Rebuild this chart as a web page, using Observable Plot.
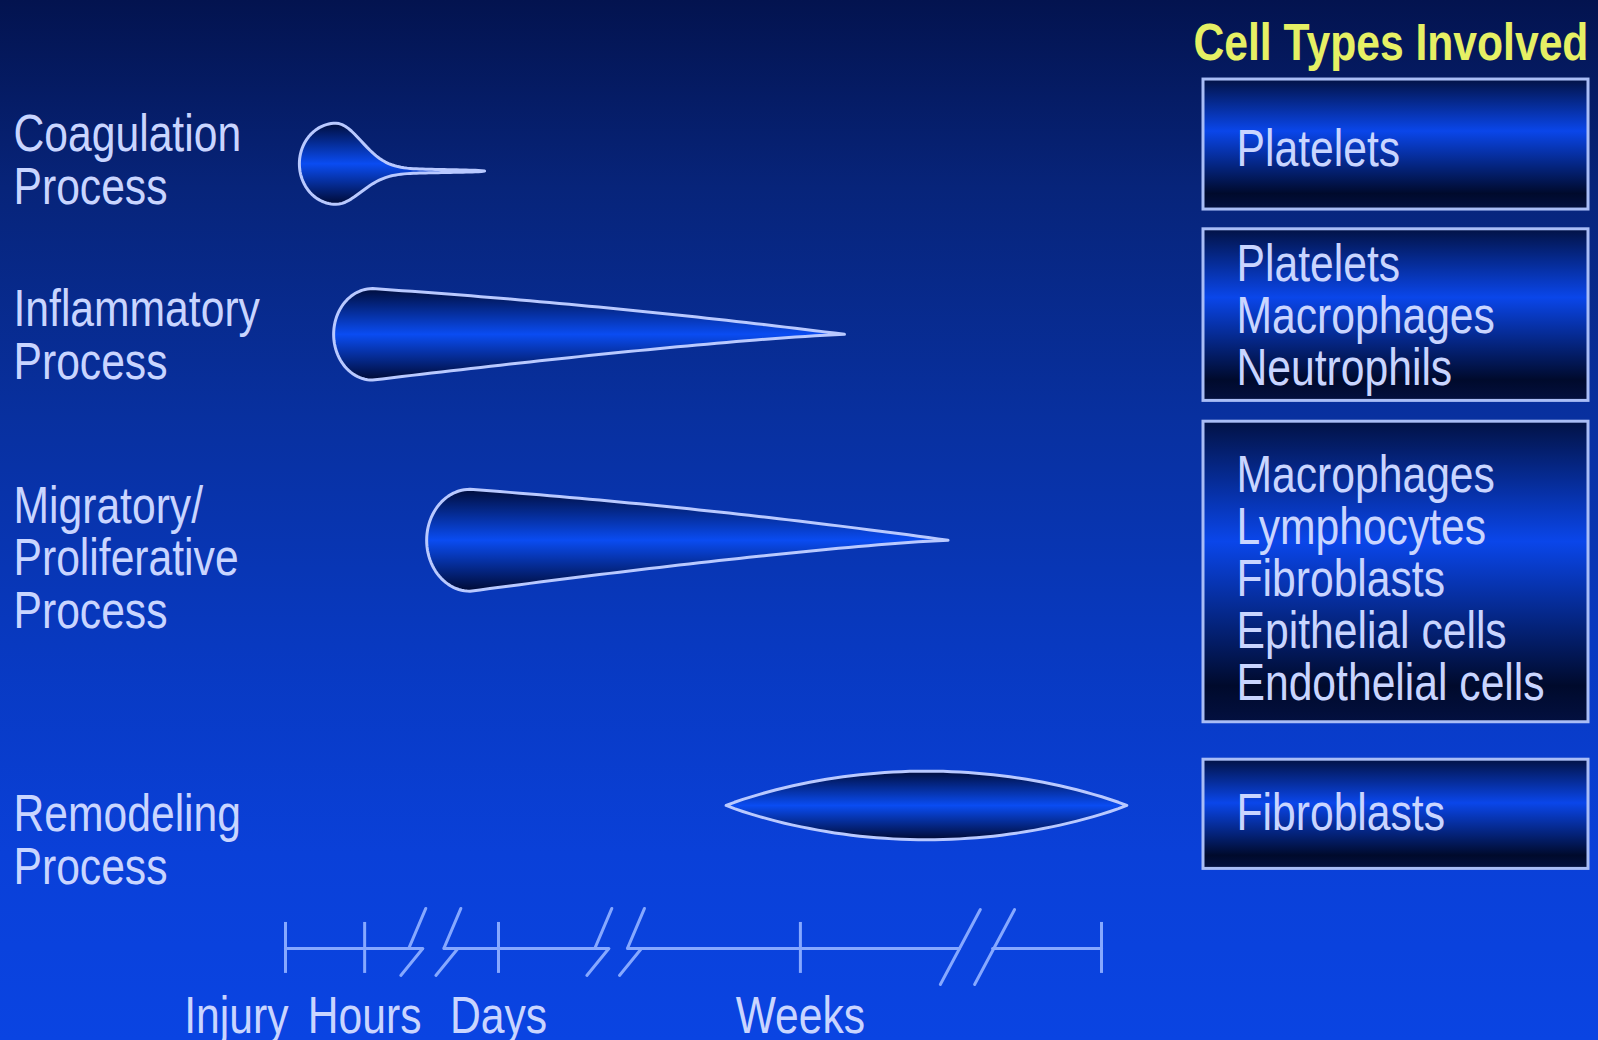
<!DOCTYPE html>
<html>
<head>
<meta charset="utf-8">
<script src="https://cdn.jsdelivr.net/npm/d3@7"></script>
<script src="https://cdn.jsdelivr.net/npm/@observablehq/plot@0.6"></script>
<style>
  html, body { margin: 0; padding: 0; }
  body {
    width: 1598px; height: 1040px; overflow: hidden;
    background: linear-gradient(to bottom, #03134f 0%, #07247a 18%, #08309f 40%, #0839c0 62%, #0a40d8 82%, #0a44e2 100%);
  }
  #stage { position: relative; width: 1598px; height: 1040px; }
  #left { position: absolute; left: 0; top: 0; }
  #right { position: absolute; left: 1180px; top: 0; }
</style>
</head>
<body>
<div id="stage"><div id="left"></div><div id="right"></div></div>
<script>
// ---------------- data ----------------
const phaseNames = ["Coagulation", "Inflammatory", "Migratory/Proliferative", "Remodeling"];
const phaseLabelLines = [
  ["Coagulation", "Process"],
  ["Inflammatory", "Process"],
  ["Migratory/", "Proliferative", "Process"],
  ["Remodeling", "Process"]
];
// timeline units: 0 = injury tick, 100 = right end tick of the time axis
const phaseStart = [1.7, 5.9, 17.3, 54.0];
const phaseEnd = [24.4, 68.5, 81.2, 103.1];
const phaseThickness = [3.9, 4.4, 4.9, 3.3]; // half height, % of slide height
const phaseForm = ["bulb", "tear", "tear", "lens"];

const timelineTicks = [0, 9.7, 26.1, 63.1, 100];
const timelineLabels = ["Injury", "Hours", "Days", "Weeks", ""];
const axisBreakZigzags = [15.6, 19.9, 38.4, 42.4];
const axisBreakSlashes = [82.7, 86.9];

const cellTitle = "Cell Types Involved";
const cellLists = [
  ["Platelets"],
  ["Platelets", "Macrophages", "Neutrophils"],
  ["Macrophages", "Lymphocytes", "Fibroblasts", "Epithelial cells", "Endothelial cells"],
  ["Fibroblasts"]
];

// ---------------- layout (y in % of slide height) ----------------
const rowCenter = [15.7, 32.1, 51.9, 77.4];
const labelFirstBaseline = [14.5, 31.3, 50.2, 79.9];
const labelStep = 5.05;
const axisY = 91.15, tickTop = 88.65, tickBottom = 93.55, axisLabelY = 99.3;
const boxTop = [7.6, 22.0, 40.5, 73.0];
const boxBottom = [20.1, 38.5, 69.4, 83.5];
const boxFirstBaseline = [15.9, 27.0, 47.3, 79.8];
const boxStep = 5.0;
const titleY = 5.7;

const KX = 8.16, KY = 10.4; // px per unit (x timeline, y percent)

const TEXT = "#c9d5ff", TITLE = "#e6f064", OUTLINE = "#b9c9ff", AXIS = "#86a8ff", BOXLINE = "#a9bdf6";

function fontAvailable(name) {
  const ctx = document.createElement("canvas").getContext("2d");
  const s = "Coagulation Platelets Weeks";
  ctx.font = "52px monospace"; const a = ctx.measureText(s).width;
  ctx.font = `52px "${name}", monospace`; const b = ctx.measureText(s).width;
  return Math.abs(a - b) > 0.5;
}
const NARROW = fontAvailable("Liberation Sans Narrow");
const FONT = NARROW ? '"Liberation Sans Narrow", "Arial Narrow", sans-serif' : '"Liberation Sans", Arial, sans-serif';

// ---------------- phase outlines (derived from phase data) ----------------
function outline(i) {
  const t0 = phaseStart[i], t1 = phaseEnd[i], c = rowCenter[i], h = phaseThickness[i], f = phaseForm[i];
  const N = 48, pts = [];
  if (f === "lens") {
    for (let k = 0; k <= N; k++) { const u = k / N; pts.push([t0 + u * (t1 - t0), c - h * Math.pow(4 * u * (1 - u), 0.95)]); }
    for (let k = N - 1; k > 0; k--) { const u = k / N; pts.push([t0 + u * (t1 - t0), c + h * Math.pow(4 * u * (1 - u), 0.95)]); }
  } else if (f === "tear") {
    const rx = h * KY / KX * 0.85, xc = t0 + rx;
    for (let k = 0; k <= N; k++) { const a = Math.PI / 2 + Math.PI * k / N; pts.push([xc + rx * Math.cos(a), c - h * Math.sin(a)]); }
    for (let k = 1; k <= N; k++) { const u = k / N; pts.push([xc + u * (t1 - xc), c + h * Math.pow(1 - u, 1.25)]); }
    for (let k = N - 1; k > 0; k--) { const u = k / N; pts.push([xc + u * (t1 - xc), c - h * (1 - u) * (1 + 0.3 * u)]); }
  } else {
    const rx = h * KY / KX * 0.9, xc = t0 + rx;
    const g = u => 0.07 * Math.sqrt(1 - u) + (1 - 0.07) * Math.exp(-Math.pow(u / 0.24, 2));
    const s = u => 0.7 * (1 - Math.exp(-Math.pow(u / 0.25, 2)));
    for (let k = 0; k <= N; k++) { const a = Math.PI / 2 + Math.PI * k / N; pts.push([xc + rx * Math.cos(a), c - h * Math.sin(a)]); }
    for (let k = 1; k <= N; k++) { const u = k / N; pts.push([xc + u * (t1 - xc), c + s(u) + h * g(u)]); }
    for (let k = N - 1; k > 0; k--) { const u = k / N; pts.push([xc + u * (t1 - xc), c + s(u) - h * g(u)]); }
  }
  return pts.map(([x, y]) => ({phase: phaseNames[i], x, y}));
}
const shapePoints = phaseNames.flatMap((_, i) => outline(i));

// axis line pieces and break glyphs
const zz = axisBreakZigzags, sl = axisBreakSlashes;
const axisSegments = [
  [0, zz[0] + 10 / KX], [zz[1] - 4 / KX, zz[2] + 10 / KX], [zz[3] - 4 / KX, sl[0] - 1 / KX], [sl[1] - 2 / KX, 100]
].flatMap(([a, b], i) => [{seg: "a" + i, x: a, y: axisY}, {seg: "a" + i, x: b, y: axisY}]);
const breakGlyphs = [
  ...zz.flatMap((c, i) => [
    {seg: "z" + i, x: c + 13 / KX, y: axisY - 40 / KY},
    {seg: "z" + i, x: c - 4 / KX, y: axisY},
    {seg: "z" + i, x: c + 10 / KX, y: axisY},
    {seg: "z" + i, x: c - 12 / KX, y: axisY + 27 / KY}
  ]),
  ...sl.flatMap((c, i) => [
    {seg: "s" + i, x: c - 20 / KX, y: axisY + 36 / KY},
    {seg: "s" + i, x: c + 20 / KX, y: axisY - 39 / KY}
  ])
];

const labelRows = phaseLabelLines.flatMap((lines, i) => lines.map((text, j) => ({text, y: labelFirstBaseline[i] + j * labelStep})));
const tickRows = timelineTicks.map((t, i) => ({t, label: timelineLabels[i]}));

const leftPlot = Plot.plot({
  width: 1180, height: 1040,
  marginTop: 0, marginRight: 0, marginBottom: 0, marginLeft: 0,
  x: {type: "linear", domain: [0, 100], range: [285, 1101], axis: null},
  y: {type: "linear", domain: [0, 100], range: [0, 1040], axis: null},
  style: {background: "none", color: TEXT, fontFamily: FONT, overflow: "visible"},
  marks: [
    Plot.line(shapePoints, {x: "x", y: "y", z: "phase", curve: "linear-closed", fill: "url(#phaseFill)", stroke: OUTLINE, strokeWidth: 3}),
    Plot.line(axisSegments, {x: "x", y: "y", z: "seg", stroke: AXIS, strokeWidth: 3}),
    Plot.line(breakGlyphs, {x: "x", y: "y", z: "seg", stroke: AXIS, strokeWidth: 3, strokeLinejoin: "miter"}),
    Plot.ruleX(timelineTicks, {x: d => d, y1: tickTop, y2: tickBottom, stroke: AXIS, strokeWidth: 3}),
    Plot.text(tickRows.filter((d, i) => i === 0), {x: "t", y: axisLabelY, text: "label", textAnchor: "end", dx: 3, lineAnchor: "bottom", fontSize: 52, fill: TEXT}),
    Plot.text(tickRows.filter((d, i) => i > 0 && d.label), {x: "t", y: axisLabelY, text: "label", textAnchor: "middle", lineAnchor: "bottom", fontSize: 52, fill: TEXT}),
    Plot.text(labelRows, {y: "y", text: "text", frameAnchor: "left", textAnchor: "start", dx: 13, lineAnchor: "bottom", fontSize: 52, fill: TEXT})
  ]
});

const boxes = cellLists.map((lines, i) => ({i, y1: boxTop[i], y2: boxBottom[i]}));
const cellRows = cellLists.flatMap((lines, i) => lines.map((text, j) => ({text, y: boxFirstBaseline[i] + j * boxStep})));

const rightPlot = Plot.plot({
  width: 418, height: 1040,
  marginTop: 0, marginRight: 0, marginBottom: 0, marginLeft: 0,
  y: {type: "linear", domain: [0, 100], range: [0, 1040], axis: null},
  style: {background: "none", color: TEXT, fontFamily: FONT, overflow: "visible"},
  marks: [
    Plot.rect(boxes, {y1: "y1", y2: "y2", insetLeft: 23, insetRight: 10, fill: "url(#boxFill)", stroke: BOXLINE, strokeWidth: 3}),
    Plot.text(cellRows, {y: "y", text: "text", frameAnchor: "left", textAnchor: "start", dx: 56, lineAnchor: "bottom", fontSize: 52, fill: TEXT}),
    Plot.text([cellTitle], {y: titleY, text: d => d, frameAnchor: "left", textAnchor: "start", dx: 13, lineAnchor: "bottom", fontSize: 52, fontWeight: "bold", fill: TITLE})
  ]
});

function addGradient(svg, id, stops) {
  const s = d3.select(svg);
  let defs = s.select("defs");
  if (defs.empty()) defs = s.insert("defs", ":first-child");
  const g = defs.append("linearGradient").attr("id", id).attr("x1", 0).attr("y1", 0).attr("x2", 0).attr("y2", 1);
  for (const [o, c] of stops) g.append("stop").attr("offset", o).attr("stop-color", c);
}
addGradient(leftPlot, "phaseFill", [[0, "#000d3c"], [0.5, "#0a4cf2"], [1, "#000a34"]]);
addGradient(rightPlot, "boxFill", [[0, "#021245"], [0.4, "#0a46ea"], [0.88, "#000a2c"], [1, "#031040"]]);

document.getElementById("left").appendChild(leftPlot);
document.getElementById("right").appendChild(rightPlot);

if (!NARROW) {
  for (const t of document.querySelectorAll("svg text")) {
    const L = t.getComputedTextLength();
    if (L > 0) { t.setAttribute("textLength", (L * 0.82).toFixed(1)); t.setAttribute("lengthAdjust", "spacingAndGlyphs"); }
  }
}
</script>
</body>
</html>
